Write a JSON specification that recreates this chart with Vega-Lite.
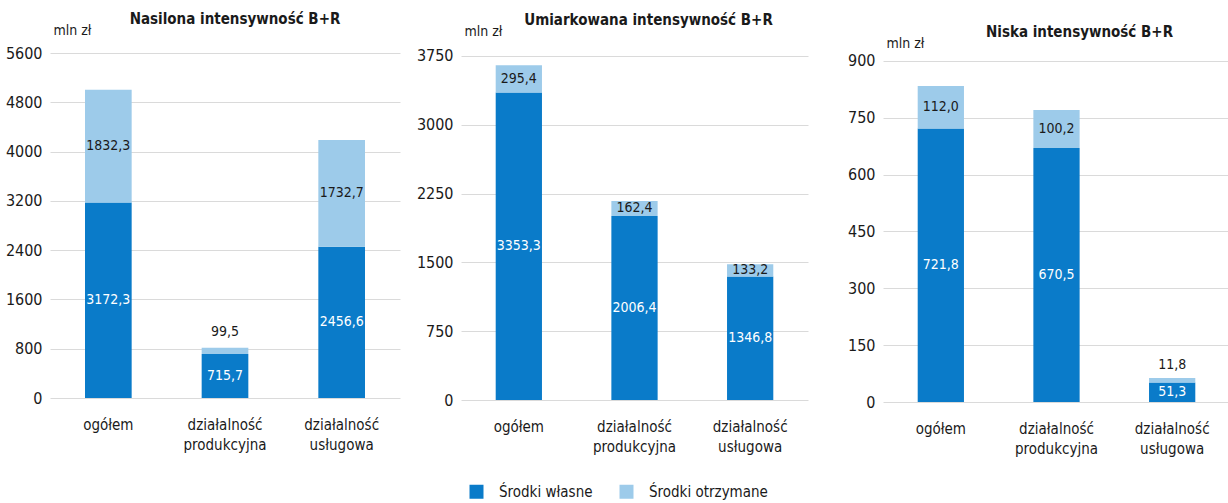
{
  "$schema": "https://vega.github.io/schema/vega-lite/v6.json",
  "padding": {"left": 5, "right": 0, "top": 12, "bottom": 5},
  "background": "white",
  "datasets": {
    "d": [
      {"p": "A", "k": "ogółem", "t": "Środki własne", "v": 3172.3},
      {"p": "A", "k": "ogółem", "t": "Środki otrzymane", "v": 1832.3},
      {"p": "A", "k": "działalność produkcyjna", "t": "Środki własne", "v": 715.7},
      {"p": "A", "k": "działalność produkcyjna", "t": "Środki otrzymane", "v": 99.5},
      {"p": "A", "k": "działalność usługowa", "t": "Środki własne", "v": 2456.6},
      {"p": "A", "k": "działalność usługowa", "t": "Środki otrzymane", "v": 1732.7},
      {"p": "B", "k": "ogółem", "t": "Środki własne", "v": 3353.3},
      {"p": "B", "k": "ogółem", "t": "Środki otrzymane", "v": 295.4},
      {"p": "B", "k": "działalność produkcyjna", "t": "Środki własne", "v": 2006.4},
      {"p": "B", "k": "działalność produkcyjna", "t": "Środki otrzymane", "v": 162.4},
      {"p": "B", "k": "działalność usługowa", "t": "Środki własne", "v": 1346.8},
      {"p": "B", "k": "działalność usługowa", "t": "Środki otrzymane", "v": 133.2},
      {"p": "C", "k": "ogółem", "t": "Środki własne", "v": 721.8},
      {"p": "C", "k": "ogółem", "t": "Środki otrzymane", "v": 112.0},
      {"p": "C", "k": "działalność produkcyjna", "t": "Środki własne", "v": 670.5},
      {"p": "C", "k": "działalność produkcyjna", "t": "Środki otrzymane", "v": 100.2},
      {"p": "C", "k": "działalność usługowa", "t": "Środki własne", "v": 51.3},
      {"p": "C", "k": "działalność usługowa", "t": "Środki otrzymane", "v": 11.8}
    ]
  },
  "data": {"name": "d"},
  "spacing": 0,
  "resolve": {"scale": {"y": "independent", "x": "independent", "color": "shared"}, "legend": {"color": "shared"}},
  "hconcat": [
    {
      "width": 350, "height": 345,
      "title": {"text": "Nasilona intensywność B+R", "dx": 10, "offset": -4},
      "transform": [
        {"filter": "datum.p == 'A'"},
        {"stack": "v", "groupby": ["k"], "sort": [{"field": "t", "order": "descending"}], "as": ["y0", "y1"]},
        {"calculate": "(datum.y0 + datum.y1) / 2", "as": "ym"}
      ],
      "encoding": {
        "x": {"field": "k", "type": "nominal", "sort": ["ogółem", "działalność produkcyjna", "działalność usługowa"], "scale": {"paddingInner": 0, "paddingOuter": 0}, "axis": {"title": null, "labelExpr": "split(datum.label, ' ')", "labelAngle": 0, "ticks": false, "domain": false, "labelPadding": 19, "labelLineHeight": 20}}
      },
      "layer": [
        {
          "mark": {"type": "bar", "width": {"band": 0.4}},
          "encoding": {
            "y": {"field": "y0", "type": "quantitative", "scale": {"domain": [0, 5600], "nice": false}, "axis": {"values": [0, 800, 1600, 2400, 3200, 4000, 4800, 5600], "title": "mln zł", "titleY": -23, "minExtent": 43, "maxExtent": 43}},
            "y2": {"field": "y1"},
            "color": {"field": "t", "type": "nominal", "scale": {"domain": ["Środki własne", "Środki otrzymane"], "range": ["#0a7bc9", "#9dcbea"]}, "legend": {"title": null, "orient": "none", "legendX": 419, "legendY": 431, "direction": "horizontal"}}
          }
        },
        {
          "transform": [{"filter": "datum.v > 300"}],
          "mark": {"type": "text", "baseline": "middle"},
          "encoding": {
            "y": {"field": "ym", "type": "quantitative"},
            "text": {"field": "v", "type": "quantitative", "format": ".1f"},
            "color": {"condition": {"test": "datum.t == 'Środki własne'", "value": "white"}, "value": "#1a1a1a"}
          }
        },
        {
          "transform": [{"filter": "datum.v <= 300"}],
          "mark": {"type": "text", "baseline": "bottom", "dy": -9, "color": "#1a1a1a"},
          "encoding": {
            "y": {"field": "y1", "type": "quantitative"},
            "text": {"field": "v", "type": "quantitative", "format": ".1f"}
          }
        }
      ]
    },
    {
      "width": 347, "height": 347,
      "title": {"text": "Umiarkowana intensywność B+R", "dx": 14, "offset": -4},
      "transform": [
        {"filter": "datum.p == 'B'"},
        {"stack": "v", "groupby": ["k"], "sort": [{"field": "t", "order": "descending"}], "as": ["y0", "y1"]},
        {"calculate": "(datum.y0 + datum.y1) / 2", "as": "ym"}
      ],
      "encoding": {
        "x": {"field": "k", "type": "nominal", "sort": ["ogółem", "działalność produkcyjna", "działalność usługowa"], "scale": {"paddingInner": 0, "paddingOuter": 0}, "axis": {"title": null, "labelExpr": "split(datum.label, ' ')", "labelAngle": 0, "ticks": false, "domain": false, "labelPadding": 19, "labelLineHeight": 20}}
      },
      "layer": [
        {
          "mark": {"type": "bar", "width": {"band": 0.4}},
          "encoding": {
            "y": {"field": "y0", "type": "quantitative", "scale": {"domain": [0, 3782.7], "nice": false}, "axis": {"values": [0, 750, 1500, 2250, 3000, 3750], "title": "mln zł", "titleY": -22, "minExtent": 61, "maxExtent": 61}},
            "y2": {"field": "y1"},
            "color": {"field": "t", "type": "nominal", "legend": {"title": null, "orient": "none", "legendX": 419, "legendY": 431, "direction": "horizontal"}}
          }
        },
        {
          "mark": {"type": "text", "baseline": "middle"},
          "encoding": {
            "y": {"field": "ym", "type": "quantitative"},
            "text": {"field": "v", "type": "quantitative", "format": ".1f"},
            "color": {"condition": {"test": "datum.t == 'Środki własne'", "value": "white"}, "value": "#1a1a1a"}
          }
        }
      ]
    },
    {
      "width": 347, "height": 349,
      "title": {"text": "Niska intensywność B+R", "dx": 23, "offset": -4},
      "transform": [
        {"filter": "datum.p == 'C'"},
        {"stack": "v", "groupby": ["k"], "sort": [{"field": "t", "order": "descending"}], "as": ["y0", "y1"]},
        {"calculate": "(datum.y0 + datum.y1) / 2", "as": "ym"}
      ],
      "encoding": {
        "x": {"field": "k", "type": "nominal", "sort": ["ogółem", "działalność produkcyjna", "działalność usługowa"], "scale": {"paddingInner": 0, "paddingOuter": 0}, "axis": {"title": null, "labelExpr": "split(datum.label, ' ')", "labelAngle": 0, "ticks": false, "domain": false, "labelPadding": 19, "labelLineHeight": 20}}
      },
      "layer": [
        {
          "mark": {"type": "bar", "width": {"band": 0.4}},
          "encoding": {
            "y": {"field": "y0", "type": "quantitative", "scale": {"domain": [0, 921.1], "nice": false}, "axis": {"values": [0, 150, 300, 450, 600, 750, 900], "title": "mln zł", "titleY": -10, "minExtent": 75, "maxExtent": 75}},
            "y2": {"field": "y1"},
            "color": {"field": "t", "type": "nominal", "legend": {"title": null, "orient": "none", "legendX": 419, "legendY": 431, "direction": "horizontal"}}
          }
        },
        {
          "transform": [{"filter": "datum.v > 40"}],
          "mark": {"type": "text", "baseline": "middle"},
          "encoding": {
            "y": {"field": "ym", "type": "quantitative"},
            "text": {"field": "v", "type": "quantitative", "format": ".1f"},
            "color": {"condition": {"test": "datum.t == 'Środki własne'", "value": "white"}, "value": "#1a1a1a"}
          }
        },
        {
          "transform": [{"filter": "datum.v <= 40"}],
          "mark": {"type": "text", "baseline": "bottom", "dy": -6, "color": "#1a1a1a"},
          "encoding": {
            "y": {"field": "y1", "type": "quantitative"},
            "text": {"field": "v", "type": "quantitative", "format": ".1f"}
          }
        }
      ]
    }
  ],
  "config": {
    "font": "DejaVu Sans Condensed, DejaVu Sans, sans-serif",
    "locale": {"number": {"decimal": ",", "thousands": "", "grouping": [3], "currency": ["", " zł"]}},
    "view": {"stroke": null},
    "title": {"fontSize": 15, "fontWeight": "bold", "color": "#1a1a1a", "anchor": "middle", "font": "DejaVu Sans Condensed, DejaVu Sans, sans-serif"},
    "axis": {"labelFontSize": 15, "labelColor": "#1a1a1a", "gridColor": "#dadada", "titleColor": "#1a1a1a", "labelFont": "DejaVu Sans Condensed, DejaVu Sans, sans-serif", "titleFont": "DejaVu Sans Condensed, DejaVu Sans, sans-serif"},
    "axisY": {"domain": false, "ticks": false, "grid": true, "labelPadding": 8, "labelFontSize": 16, "titleAngle": 0, "titleAlign": "left", "titleX": 3, "titleBaseline": "middle", "titleFontSize": 14, "titleFontWeight": "normal"},
    "text": {"fontSize": 14},
    "legend": {"labelFontSize": 15, "labelColor": "#1a1a1a", "symbolType": "square", "symbolSize": 196, "symbolStrokeWidth": 0, "labelOffset": 15, "columnPadding": 26, "labelFont": "DejaVu Sans Condensed, DejaVu Sans, sans-serif"}
  }
}
